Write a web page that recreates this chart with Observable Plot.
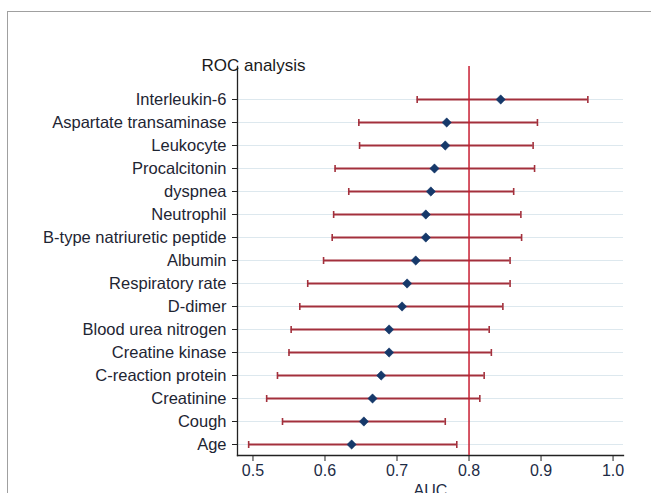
<!DOCTYPE html>
<html>
<head>
<meta charset="utf-8">
<script src="https://cdn.jsdelivr.net/npm/d3@7"></script>
<script src="https://cdn.jsdelivr.net/npm/@observablehq/plot@0.6"></script>
<style>
  html, body { margin: 0; padding: 0; background: #fff; }
  #wrap { position: relative; width: 651px; height: 493px; overflow: hidden; }
  #border { position: absolute; left: 7px; top: 11px; right: -5px; bottom: -5px;
            border-top: 1.5px solid #a0a0a0; border-left: 1.5px solid #a0a0a0; }
  #chart { position: absolute; left: 0; top: 0; }
</style>
</head>
<body>
<div id="wrap"><div id="border"></div><div id="chart"></div></div>
<script>
const variables = ["Interleukin-6", "Aspartate transaminase", "Leukocyte", "Procalcitonin",
  "dyspnea", "Neutrophil", "B-type natriuretic peptide", "Albumin", "Respiratory rate",
  "D-dimer", "Blood urea nitrogen", "Creatine kinase", "C-reaction protein", "Creatinine",
  "Cough", "Age"];
const auc   = [0.844, 0.769, 0.767, 0.752, 0.747, 0.740, 0.740, 0.726, 0.714, 0.707, 0.689, 0.689, 0.678, 0.666, 0.654, 0.637];
const lower = [0.728, 0.647, 0.648, 0.614, 0.633, 0.612, 0.610, 0.598, 0.576, 0.565, 0.553, 0.550, 0.534, 0.519, 0.541, 0.494];
const upper = [0.965, 0.895, 0.889, 0.891, 0.862, 0.872, 0.873, 0.857, 0.857, 0.847, 0.828, 0.831, 0.821, 0.815, 0.767, 0.783];
const xTicks = [0.5, 0.6, 0.7, 0.8, 0.9, 1.0];
const reference = [0.8];
const title = "ROC analysis";
const xLabel = "AUC";

const data = variables.map((v, i) => ({name: v, auc: auc[i], lo: lower[i], hi: upper[i]}));

const barColor = "#a3303c";
const refColor = "#c81e32";
const dotColor = "#16396a";
const textColor = "#1e2533";

// vertical cap symbol for the error bars
const capSymbol = {
  draw(context, size) {
    const r = Math.sqrt(size / Math.PI);
    context.moveTo(0, -r);
    context.lineTo(0, r);
  }
};

const chart = Plot.plot({
  width: 651,
  height: 493,
  marginLeft: 237,
  marginRight: 28,
  marginTop: 66,
  marginBottom: 38,
  style: {fontFamily: "'Liberation Sans', Arial, sans-serif", background: "transparent", color: textColor},
  x: {domain: [0.4785, 1.0145], ticks: xTicks, tickFormat: d3.format(".1f")},
  y: {type: "point", domain: variables, range: [99, 444.7], padding: 0},
  marks: [
    Plot.gridY(variables, {stroke: "#dde8ee", strokeOpacity: 1, strokeWidth: 1.2}),
    Plot.frame({anchor: "left", stroke: "#222", strokeWidth: 1.3}),
    Plot.frame({anchor: "bottom", stroke: "#222", strokeWidth: 1.3}),
    Plot.axisY({tickSize: 5, tickPadding: 6, fontSize: 16.5, label: null, stroke: "#222", fill: textColor}),
    Plot.axisX({tickSize: 6, tickPadding: 3, fontSize: 16, label: null, stroke: "#222", fill: "#1d2b45"}),
    Plot.ruleY(data, {y: "name", x1: "lo", x2: "hi", stroke: barColor, strokeWidth: 1.8}),
    Plot.dot(data, {x: "lo", y: "name", symbol: capSymbol, r: 3.5, fill: "none", stroke: barColor, strokeWidth: 1.6}),
    Plot.dot(data, {x: "hi", y: "name", symbol: capSymbol, r: 3.5, fill: "none", stroke: barColor, strokeWidth: 1.6}),
    Plot.ruleX(reference, {stroke: refColor, strokeWidth: 1.5}),
    Plot.dot(data, {x: "auc", y: "name", symbol: "diamond2", r: 4.2, fill: dotColor, stroke: dotColor, strokeWidth: 0.5}),
    Plot.text([title], {frameAnchor: "top-left", dx: -36, dy: -1, lineAnchor: "middle", textAnchor: "start", fontSize: 17, fill: "#1a1a1a"}),
    Plot.text([xLabel], {frameAnchor: "bottom", dy: 35, lineAnchor: "middle", fontSize: 16, fill: "#1d2b45"})
  ]
});
document.getElementById("chart").appendChild(chart);
</script>
</body>
</html>
